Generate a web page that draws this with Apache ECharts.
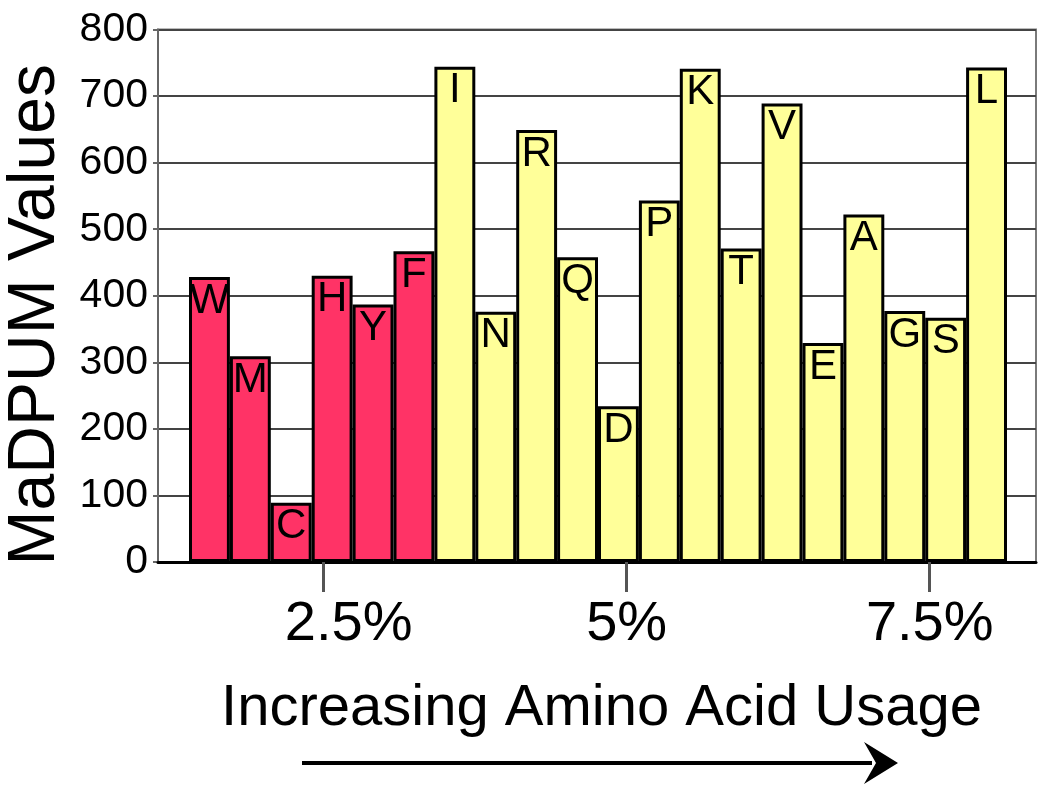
<!DOCTYPE html>
<html>
<head>
<meta charset="utf-8">
<script src="https://cdn.jsdelivr.net/npm/echarts@6/dist/echarts.min.js"></script>
<style>
  html, body { margin: 0; padding: 0; background: #ffffff; }
  #chart { width: 1050px; height: 791px; }
</style>
</head>
<body>
<div id="chart"></div>
<script>
// ---- Data ----
const lowUsageAcids = ['W', 'M', 'C', 'H', 'Y', 'F'];
const highUsageAcids = ['I', 'N', 'R', 'Q', 'D', 'P', 'K', 'T', 'V', 'E', 'A', 'G', 'S', 'L'];
const lowUsageValues = [428, 309, 89, 430, 387, 467];
const highUsageValues = [744, 376, 649, 458, 234, 543, 741, 471, 689, 329, 522, 377, 367, 743];
const usageTicks = [2.5, 5, 7.5];
const yTitle = 'MaDPUM Values';
const xTitle = 'Increasing Amino Acid Usage';

// ---- Derived ----
const categories = lowUsageAcids.concat(highUsageAcids);
const values = lowUsageValues.concat(highUsageValues);
const nLow = lowUsageAcids.length;

const FONT = '"Liberation Sans", Arial, Helvetica, sans-serif';
const RED = '#ff3366';
const YELLOW = '#ffff99';

const chart = echarts.init(document.getElementById('chart'), null, { renderer: 'canvas' });

const option = {
  backgroundColor: '#ffffff',
  animation: false,
  textStyle: { fontFamily: FONT },
  grid: [
    { left: 158, right: 14, top: 29.5, bottom: 229, containLabel: false, outerBoundsMode: 'none',
      show: true, borderColor: '#7a7a7a', borderWidth: 2, backgroundColor: 'transparent' },
    { left: 189, right: 43, top: 29.5, bottom: 229, containLabel: false, outerBoundsMode: 'none' }
  ],
  xAxis: [
    {
      type: 'value', gridIndex: 0,
      min: 1.133, max: 8.377,
      z: 5,
      axisLine: { show: true, onZero: false, lineStyle: { color: '#000', width: 3 } },
      axisTick: { show: true, length: 30, customValues: usageTicks, lineStyle: { color: '#555', width: 3 } },
      axisLabel: {
        show: true, customValues: usageTicks, fontSize: 56, color: '#000', margin: 35, fontFamily: FONT,
        formatter: function (v) { return v === 2.5 ? '{a|' + v + '%}' : v + '%'; },
        rich: { a: { fontSize: 56, color: '#000', fontFamily: FONT, padding: [0, 0, 0, 50] } }
      },
      splitLine: { show: false },
      name: xTitle, nameLocation: 'middle', nameGap: 118, nameMoveOverlap: false,
      nameTextStyle: { fontSize: 58, color: '#000', fontFamily: FONT, padding: [0, 0, 0, 9] }
    },
    {
      type: 'category', gridIndex: 1, data: categories, boundaryGap: true,
      axisLine: { show: false }, axisTick: { show: false }, axisLabel: { show: false }, splitLine: { show: false }
    }
  ],
  yAxis: [
    {
      type: 'value', gridIndex: 0, min: 0, max: 800, interval: 100,
      axisLine: { show: true, lineStyle: { color: '#666', width: 2 } },
      axisTick: { show: true, length: 5, lineStyle: { color: '#666', width: 2 } },
      axisLabel: { fontSize: 41, color: '#000', margin: 10, fontFamily: FONT, padding: [8, 0, 0, 0] },
      splitLine: { show: true, lineStyle: { color: '#444', width: 2 } },
      name: yTitle, nameLocation: 'middle', nameRotate: 90, nameGap: 89, nameMoveOverlap: false,
      nameTextStyle: { fontSize: 66, color: '#000', fontFamily: FONT, padding: [0, 38, 0, 0] }
    },
    {
      type: 'value', gridIndex: 1, min: 0, max: 800, interval: 100, show: false,
      splitLine: { show: false }
    }
  ],
  series: [
    {
      type: 'bar', xAxisIndex: 1, yAxisIndex: 1,
      data: values,
      barCategoryGap: '0%',
      itemStyle: {
        color: function (p) { return p.dataIndex < nLow ? RED : YELLOW; },
        borderColor: '#000', borderWidth: 3
      },
      label: {
        show: true, position: 'insideTop', distance: 3,
        formatter: '{b}', fontSize: 42, color: '#000', fontFamily: FONT
      }
    }
  ],
  graphic: [
    { type: 'line', shape: { x1: 302, y1: 763, x2: 872, y2: 763 }, style: { stroke: '#000', lineWidth: 4 } },
    { type: 'polygon', shape: { points: [[864, 742], [898, 763], [864, 784], [876, 763]] }, style: { fill: '#000' } }
  ]
};

chart.setOption(option);
</script>
</body>
</html>
